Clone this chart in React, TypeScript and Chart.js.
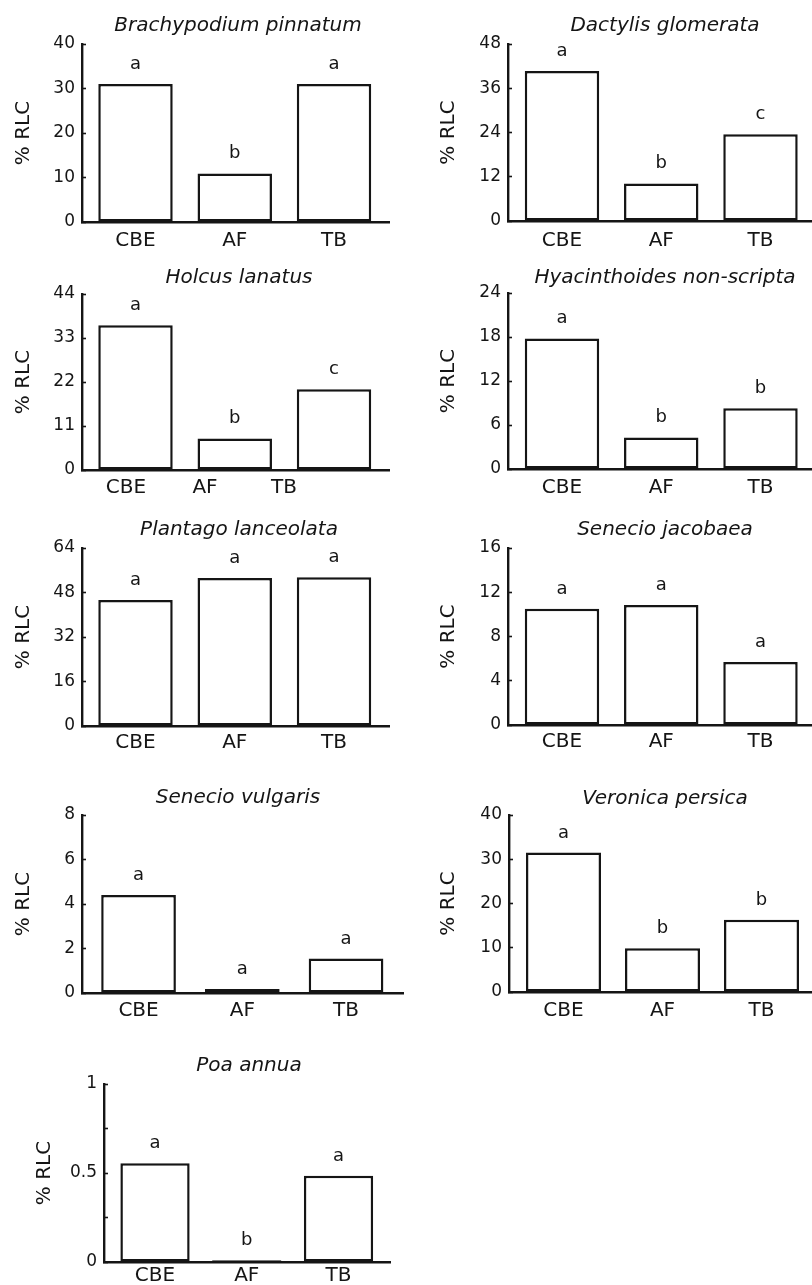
import React, { useEffect, useRef } from 'react';
import { Chart, registerables } from 'chart.js';

Chart.register(...registerables);

// ---------- data ----------
const categories = ['CBE', 'AF', 'TB'];
const categoryPositions = [1, 2, 3];

const brachypodiumValues = [31, 10.9, 31];
const dactylisValues = [40.7, 10.2, 23.5];
const holcusValues = [36.2, 7.9, 20.2];
const hyacinthoidesValues = [17.8, 4.3, 8.3];
const plantagoValues = [45.3, 53.2, 53.5];
const jacobaeaValues = [10.5, 10.85, 5.7];
const vulgarisValues = [4.4, 0.18, 1.55];
const veronicaValues = [31.5, 9.9, 16.3];
const poaValues = [0.555, 0.01, 0.485];

const brachypodiumLetters = ['a', 'b', 'a'];
const dactylisLetters = ['a', 'b', 'c'];
const holcusLetters = ['a', 'b', 'c'];
const hyacinthoidesLetters = ['a', 'b', 'b'];
const plantagoLetters = ['a', 'a', 'a'];
const jacobaeaLetters = ['a', 'a', 'a'];
const vulgarisLetters = ['a', 'a', 'a'];
const veronicaLetters = ['a', 'b', 'b'];
const poaLetters = ['a', 'b', 'a'];

const ticks40 = [0, 10, 20, 30, 40];
const ticks48 = [0, 12, 24, 36, 48];
const ticks44 = [0, 11, 22, 33, 44];
const ticks24 = [0, 6, 12, 18, 24];
const ticks64 = [0, 16, 32, 48, 64];
const ticks16 = [0, 4, 8, 12, 16];
const ticks8 = [0, 2, 4, 6, 8];
const poaTicks = [0, 0.25, 0.5, 0.75, 1];
const poaTickLabels = ['0', '', '0.5', '', '1'];

// Holcus panel: category labels printed on a compressed spacing
const holcusLabelRange = [0.443, 4.329];

const yAxisTitle = '% RLC';

// ---------- layout / style ----------
const FAMILY = '"DejaVu Sans", sans-serif';
const INK = '#151515';

type Panel = {
  title: string;
  values: number[];
  letters: string[];
  yTicks: number[];
  yTickLabels?: string[];
  canvas: [number, number, number, number];
  area: [number, number, number, number];
  xRange: [number, number];
  yTitleLeft: number;
  titleX: number;
  titleY: number;
  labelPad: number;
  barPct: number;
  shiftedLabels?: boolean;
};

const panels: Panel[] = [
  { title: 'Brachypodium pinnatum', values: brachypodiumValues, letters: brachypodiumLetters, yTicks: ticks40,
    canvas: [0, 0, 406, 255], area: [82, 44, 389, 222], xRange: [0.461, 3.554], yTitleLeft: 12, titleX: 238, titleY: 31, labelPad: 7, barPct: 0.75 },
  { title: 'Dactylis glomerata', values: dactylisValues, letters: dactylisLetters, yTicks: ticks48,
    canvas: [406, 0, 406, 255], area: [508, 44, 812, 221], xRange: [0.456, 3.519], yTitleLeft: 437, titleX: 665, titleY: 31, labelPad: 8, barPct: 0.75 },
  { title: 'Holcus lanatus', values: holcusValues, letters: holcusLetters, yTicks: ticks44,
    canvas: [0, 255, 406, 255], area: [82, 294, 389, 470], xRange: [0.461, 3.554], yTitleLeft: 12, titleX: 239, titleY: 283, labelPad: 6, barPct: 0.75, shiftedLabels: true },
  { title: 'Hyacinthoides non-scripta', values: hyacinthoidesValues, letters: hyacinthoidesLetters, yTicks: ticks24,
    canvas: [406, 255, 406, 255], area: [508, 293, 812, 469], xRange: [0.456, 3.519], yTitleLeft: 437, titleX: 665, titleY: 283, labelPad: 6.5, barPct: 0.75 },
  { title: 'Plantago lanceolata', values: plantagoValues, letters: plantagoLetters, yTicks: ticks64,
    canvas: [0, 510, 406, 255], area: [82, 548, 389, 726], xRange: [0.461, 3.554], yTitleLeft: 12, titleX: 239, titleY: 535, labelPad: 5, barPct: 0.75 },
  { title: 'Senecio jacobaea', values: jacobaeaValues, letters: jacobaeaLetters, yTicks: ticks16,
    canvas: [406, 510, 406, 255], area: [508, 548, 812, 725], xRange: [0.456, 3.519], yTitleLeft: 437, titleX: 665, titleY: 535, labelPad: 5, barPct: 0.75 },
  { title: 'Senecio vulgaris', values: vulgarisValues, letters: vulgarisLetters, yTicks: ticks8,
    canvas: [0, 765, 406, 265], area: [82, 815, 403, 993], xRange: [0.455, 3.549], yTitleLeft: 12, titleX: 238, titleY: 803, labelPad: 6, barPct: 0.72 },
  { title: 'Veronica persica', values: veronicaValues, letters: veronicaLetters, yTicks: ticks40,
    canvas: [406, 765, 406, 265], area: [509, 815, 812, 992], xRange: [0.4495, 3.51], yTitleLeft: 437, titleX: 665, titleY: 804, labelPad: 7, barPct: 0.758 },
  { title: 'Poa annua', values: poaValues, letters: poaLetters, yTicks: poaTicks, yTickLabels: poaTickLabels,
    canvas: [0, 1030, 406, 255], area: [104, 1084, 390, 1262], xRange: [0.444, 3.561], yTitleLeft: 32.6, titleX: 249, titleY: 1071, labelPad: 2, barPct: 0.755 },
];

function annotatePlugin(p: Panel) {
  return {
    id: 'annotate',
    afterDatasetsDraw(chart: any) {
      const ctx = chart.ctx;
      ctx.save();
      ctx.fillStyle = INK;
      ctx.textAlign = 'center';
      ctx.textBaseline = 'alphabetic';
      ctx.font = `italic 20px ${FAMILY}`;
      ctx.fillText(p.title, p.titleX - p.canvas[0], p.titleY - p.canvas[1]);
      ctx.font = `18px ${FAMILY}`;
      chart.getDatasetMeta(0).data.forEach((bar: any, i: number) => {
        ctx.fillText(p.letters[i], bar.x, bar.y - 15);
      });
      ctx.restore();
    },
  };
}

function buildConfig(p: Panel): any {
  const [cx, cy, cw, ch] = p.canvas;
  const [L, T, R, B] = p.area;
  const yWidth = L - p.yTitleLeft;
  const xh = cy + ch - B;
  const labelFont = { family: FAMILY, size: 20 };

  const scales: any = {
    y: {
      type: 'linear',
      position: 'left',
      min: p.yTicks[0],
      max: p.yTicks[p.yTicks.length - 1],
      afterBuildTicks: (s: any) => { s.ticks = p.yTicks.map((v) => ({ value: v })); },
      afterFit: (s: any) => { s.width = yWidth; },
      ticks: {
        autoSkip: false,
        padding: 11,
        color: INK,
        font: { family: FAMILY, size: 17 },
        callback: (v: number, i: number) => (p.yTickLabels ? p.yTickLabels[i] : String(v)),
      },
      grid: { display: true, drawOnChartArea: false, drawTicks: true, tickLength: -4, tickColor: INK, tickWidth: 1.6 },
      border: { display: true, color: INK, width: 2.4 },
      title: { display: true, text: yAxisTitle, color: INK, font: labelFont, padding: 0 },
    },
    x: {
      type: 'linear',
      position: 'bottom',
      weight: 0,
      offset: false,
      bounds: 'data',
      min: p.xRange[0],
      max: p.xRange[1],
      afterBuildTicks: (s: any) => { s.ticks = categoryPositions.map((v) => ({ value: v })); },
      grid: { display: false, drawTicks: false, offset: false },
      border: { display: true, color: INK, width: 2.4 },
      ticks: {
        display: !p.shiftedLabels,
        color: INK,
        font: labelFont,
        padding: p.labelPad,
        maxRotation: 0,
        autoSkip: false,
        callback: (_v: number, i: number) => categories[i],
      },
      afterFit: (s: any) => { s.height = p.shiftedLabels ? 0 : xh; },
    },
  };

  if (p.shiftedLabels) {
    scales.xl = {
      type: 'linear',
      position: 'bottom',
      weight: 1,
      offset: false,
      bounds: 'data',
      min: holcusLabelRange[0],
      max: holcusLabelRange[1],
      afterBuildTicks: (s: any) => { s.ticks = categoryPositions.map((v) => ({ value: v })); },
      afterFit: (s: any) => { s.height = xh; },
      grid: { display: false, drawTicks: false, offset: false },
      border: { display: false },
      ticks: {
        autoSkip: false,
        maxRotation: 0,
        color: INK,
        font: labelFont,
        padding: p.labelPad,
        callback: (_v: number, i: number) => categories[i],
      },
    };
  }

  return {
    type: 'bar',
    data: {
      datasets: [{
        data: categoryPositions.map((x, i) => ({ x, y: p.values[i] })),
        backgroundColor: '#ffffff',
        borderColor: INK,
        borderWidth: 2.5,
        borderSkipped: false,
        barPercentage: p.barPct,
        categoryPercentage: 1,
      }],
    },
    options: {
      responsive: false,
      animation: false,
      devicePixelRatio: 1,
      layout: { padding: { left: p.yTitleLeft - cx, top: T - cy, right: cx + cw - R, bottom: 0 } },
      plugins: { legend: { display: false }, title: { display: false }, tooltip: { enabled: false } },
      scales,
    },
    plugins: [annotatePlugin(p)],
  };
}

function PanelChart({ p }: { p: Panel }) {
  const ref = useRef<HTMLCanvasElement | null>(null);
  useEffect(() => {
    if (!ref.current) return;
    const chart = new Chart(ref.current, buildConfig(p));
    return () => chart.destroy();
  }, [p]);
  const [x, y, w, h] = p.canvas;
  return (
    <canvas
      ref={ref}
      width={w}
      height={h}
      style={{ position: 'absolute', left: x, top: y, width: w, height: h }}
    />
  );
}

export default function App() {
  return (
    <div style={{ position: 'absolute', left: 0, top: 0, width: 812, height: 1285, background: '#ffffff', overflow: 'hidden' }}>
      {panels.map((p) => (
        <PanelChart key={p.title} p={p} />
      ))}
    </div>
  );
}
